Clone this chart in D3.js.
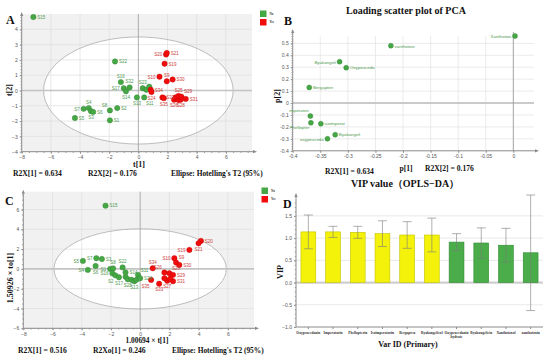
<!DOCTYPE html>
<html>
<head>
<meta charset="utf-8">
<script src="https://cdn.jsdelivr.net/npm/d3@7"></script>
<style>
body { margin: 0; background: #fff; }
svg text { font-family: "Liberation Sans", Arial, sans-serif; }
.serif { font-family: "Liberation Serif", "Times New Roman", serif !important; font-weight: bold; }
</style>
</head>
<body>
<script>
// ---------- data ----------
// A: PCA score plot
var pcaNames = ["S15","S22","S16","S32","S17","S14","S23","S18","S12","S13","S11","S7","S4","S3","S6","S8","S2","S1","S5",
                "S20","S21","S19","S10","S9","S30","S34","S24","S33","S35","S26","S36","S27","S28","S25","S29","S31"];
var pcaT1 = [-7.2,-1.6,-1.2,-0.6,-1.0,-0.85,0.3,0.55,0.75,-0.1,0.4,-3.75,-3.4,-3.25,-3.1,-1.95,-1.45,-1.95,-4.35,
             1.9,1.95,1.8,1.45,1.95,2.35,0.85,0.9,1.65,1.75,2.45,2.55,2.75,2.9,2.75,2.95,3.25];
var pcaT2 = [4.8,1.9,0.55,0.2,0.15,-0.05,0.15,0.05,0.25,-0.45,-0.45,-1.2,-1.15,-1.35,-1.4,-1.3,-1.15,-1.95,-1.8,
             2.35,2.45,1.75,0.9,0.6,0.72,0.05,-0.1,-0.45,-0.5,-0.6,-0.45,-0.62,-0.6,-0.35,-0.4,-0.55];
var pcaClass = ["No","No","No","No","No","No","No","No","No","No","No","No","No","No","No","No","No","No","No",
                "Yes","Yes","Yes","Yes","Yes","Yes","Yes","Yes","Yes","Yes","Yes","Yes","Yes","Yes","Yes","Yes","Yes"];

// B: PCA loadings
var loadNames = ["Xanthotoxi","xanthotoxi","Byakangeli","Oxypeuceda","Bergapten","imperatori","Phellopter","isoimperat","Byakangeli","oxypeuceda"];
var loadP1 = [0.003,-0.222,-0.315,-0.303,-0.370,-0.368,-0.367,-0.349,-0.323,-0.337];
var loadP2 = [0.561,0.48,0.346,0.296,0.131,-0.109,-0.165,-0.173,-0.265,-0.299];

// C: OPLS-DA score plot
var oplsNames = ["S15","S5","S7","S3","S4","S6","S1","S8","S22","S16","S2","S17","S14","S18","S28","S23","S13","S12","S11","S24",
                 "S20","S21","S19","S10","S9","S30","S34","S26","S25","S29","S35","S33","S27","S31","S32","S36"];
var oplsT1 = [-2.37,-3.92,-3.0,-2.62,-3.58,-3.05,-2.05,-1.85,-1.2,-1.9,-1.7,-1.45,-1.0,-1.0,-0.85,-0.6,-0.4,-0.25,-0.15,0.0,
              4.16,4.0,3.37,2.34,2.46,2.68,0.86,1.66,2.0,2.25,0.75,1.3,1.85,2.25,1.66,2.05];
var oplsTo1 = [6.39,0.81,1.08,1.0,-0.1,0.3,0.0,0.05,0.15,-0.45,-0.65,-0.85,-0.35,-0.8,-1.05,-1.1,-1.25,-1.1,-0.6,-0.95,
               2.83,2.59,1.92,1.08,0.64,0.4,0.07,-0.37,-0.44,-0.6,-1.11,-1.5,-1.2,-1.25,-0.94,-1.0];
var oplsClass = ["No","No","No","No","No","No","No","No","No","No","No","No","No","No","No","No","No","No","No","No",
                 "Yes","Yes","Yes","Yes","Yes","Yes","Yes","Yes","Yes","Yes","Yes","Yes","Yes","Yes","Yes","Yes"];

// D: VIP values
var vipNames = ["Oxypeucedanin","Imperatorin","Phellopterin","Isoimperatorin","Bergapten","Byakangelicol",
                "Oxypeucedanin hydrate","Byakangelicin","Xanthotoxol","xanthotoxin"];
var vipValues = [1.14,1.14,1.13,1.10,1.07,1.07,0.91,0.89,0.84,0.67];
var vipErr = [0.38,0.125,0.135,0.29,0.30,0.38,0.19,0.34,0.38,1.3];

// ---------- layout (label placement, not data) ----------
var labelSideA = {S15:"R",S22:"R",S16:"T",S32:"T",S17:"L",S14:"B",S23:"T",S13:"B",S11:"BR",S7:"L",S4:"T",S3:"B",S6:"R",
  S8:"TL",S2:"R",S1:"R",S5:"R",S20:"L",S21:"R",S19:"R",S10:"L",S9:"T",S30:"R",S34:"R",S24:"B",S33:"R",S35:"B",S26:"B",
  S28:"B",S25:"T",S29:"TR",S31:"R"};
var labelSideC = {S15:"R",S5:"L",S7:"L",S3:"R",S4:"L",S6:"B",S1:"L",S8:"T",S22:"T",S16:"L",S2:"BL",S17:"B",S14:"R",
  S28:"B",S13:"B",S11:"TR",S24:"R",S20:"R",S21:"B",S19:"L",S10:"L",S9:"TR",S30:"R",S34:"T",S26:"TL",S25:"TR",S29:"R",
  S35:"BL",S33:"B",S27:"B",S31:"R"};
var labelSideB = ["L","R","L","R","R","TL","BL","R","R","L"];

var green = "#45a845", greenDark = "#2f7d2f", red = "#f20d0d", redDark = "#c00000";
var greenText = "#4f9a4f", redText = "#cf3b3b";

var svg = d3.select("body").append("svg").attr("width", 550).attr("height", 359);

function serifText(x, y, s, size, anchor, rot) {
  var t = svg.append("text").attr("class", "serif")
    .attr("font-size", size).attr("text-anchor", anchor || "start").attr("fill", "#111").text(s);
  if (rot) t.attr("transform", "translate(" + x + "," + y + ") rotate(-90)");
  else t.attr("x", x).attr("y", y);
  return t;
}

function placeLabel(side, r) {
  var dx = 0, dy = 1.8, anchor = "start";
  if (side == "R") { dx = r + 1.2; }
  if (side == "L") { dx = -r - 1.2; anchor = "end"; }
  if (side == "T") { dy = -r - 1.5; anchor = "middle"; }
  if (side == "B") { dy = r + 5; anchor = "middle"; }
  if (side == "TR") { dx = r; dy = -r - 0.5; }
  if (side == "TL") { dx = -r; dy = -r - 0.5; anchor = "end"; }
  if (side == "BR") { dx = r - 1; dy = r + 5; }
  if (side == "BL") { dx = -r + 1; dy = r + 5; anchor = "end"; }
  return {dx: dx, dy: dy, anchor: anchor};
}

function arrowX(g, x, y) {
  g.append("path").attr("d", "M" + x + "," + (y - 1.6) + "L" + (x + 4) + "," + y + "L" + x + "," + (y + 1.6) + "Z").attr("fill", "#888");
}
function arrowY(g, x, y) {
  g.append("path").attr("d", "M" + (x - 1.6) + "," + y + "L" + x + "," + (y - 4) + "L" + (x + 1.6) + "," + y + "Z").attr("fill", "#888");
}

function styleAxis(ax) {
  ax.select(".domain").attr("stroke", "#8a8a8a");
  ax.selectAll(".tick line").attr("stroke", "#8a8a8a");
  ax.selectAll(".tick text").attr("fill", "#555").attr("font-size", 5);
}

// scatter with ellipse (A and C)
function scorePlot(o) {
  var g = svg.append("g");
  var x = o.x, y = o.y;
  var x0 = x.range()[0], x1 = x.range()[1], yb = y.range()[0], yt = y.range()[1];
  g.append("rect").attr("x", x0).attr("y", yt).attr("width", x1 - x0 - 3).attr("height", yb - yt).attr("fill", "#f1f1f1");
  g.append("ellipse").attr("cx", x(0)).attr("cy", y(0))
    .attr("rx", x(o.rx) - x(0)).attr("ry", y(0) - y(o.ry)).attr("fill", "#fff");
  g.selectAll(".gx").data(o.xTicks.filter(function(d){ return d != 0 && d != o.xTicks[0]; })).enter().append("line")
    .attr("x1", function(d){ return x(d); }).attr("x2", function(d){ return x(d); })
    .attr("y1", yt).attr("y2", yb).attr("stroke", "#dedede").attr("stroke-width", 0.7);
  g.selectAll(".gy").data(o.yGrid.filter(function(d){ return d != 0; })).enter().append("line")
    .attr("x1", x0).attr("x2", x1 - 3).attr("y1", function(d){ return y(d); }).attr("y2", function(d){ return y(d); })
    .attr("stroke", "#dedede").attr("stroke-width", 0.7);
  g.append("ellipse").attr("cx", x(0)).attr("cy", y(0))
    .attr("rx", x(o.rx) - x(0)).attr("ry", y(0) - y(o.ry)).attr("fill", "none").attr("stroke", "#b5b5b5").attr("stroke-width", 0.9);
  g.append("line").attr("x1", x0).attr("x2", x1 - 3).attr("y1", y(0)).attr("y2", y(0)).attr("stroke", "#c4c4c4").attr("stroke-width", 1.6);
  g.append("line").attr("x1", x(0)).attr("x2", x(0)).attr("y1", yt).attr("y2", yb).attr("stroke", "#9a9a9a").attr("stroke-width", 0.8);

  var ax = g.append("g").attr("transform", "translate(0," + yb + ")")
    .call(d3.axisBottom(x).tickValues(o.xTicks).tickSize(2).tickPadding(2).tickSizeOuter(0));
  ax.select(".domain").attr("d", "M" + x0 + ",0H" + (x1 - 2));
  styleAxis(ax);
  var axm = g.append("g").attr("transform", "translate(0," + yb + ")")
    .call(d3.axisBottom(x).tickValues(d3.range(o.xTicks[0], x.domain()[1], 0.5)).tickSize(1.2).tickFormat("").tickSizeOuter(0));
  axm.select(".domain").remove(); axm.selectAll("line").attr("stroke", "#999");
  arrowX(g, x1 - 2, yb);

  var ay = g.append("g").attr("transform", "translate(" + x0 + ",0)")
    .call(d3.axisLeft(y).tickValues(o.yTicks).tickSize(2).tickPadding(2).tickSizeOuter(0));
  ay.select(".domain").attr("d", "M0," + yb + "V" + (yt + 2));
  styleAxis(ay);
  var aym = g.append("g").attr("transform", "translate(" + x0 + ",0)")
    .call(d3.axisLeft(y).tickValues(d3.range(y.domain()[0], y.domain()[1], o.yMinor)).tickSize(1.2).tickFormat("").tickSizeOuter(0));
  aym.select(".domain").remove(); aym.selectAll("line").attr("stroke", "#999");
  arrowY(g, x0, yt + 2);

  var rows = o.names.map(function(n, i){ return {name: n, a: o.t1[i], b: o.t2[i], c: o.cls[i]}; });
  var r = 2.7;
  g.selectAll(".pt").data(rows).enter().append("circle")
    .attr("cx", function(d){ return x(d.a); }).attr("cy", function(d){ return y(d.b); }).attr("r", r)
    .attr("fill", function(d){ return d.c == "No" ? green : red; })
    .attr("stroke", function(d){ return d.c == "No" ? greenDark : redDark; }).attr("stroke-width", 0.4);
  g.selectAll(".lb").data(rows.filter(function(d){ return o.sides[d.name]; })).enter().append("text")
    .each(function(d){
      var p = placeLabel(o.sides[d.name], r);
      d3.select(this).attr("x", x(d.a) + p.dx).attr("y", y(d.b) + p.dy).attr("text-anchor", p.anchor);
    })
    .attr("font-size", 4.5).attr("fill", function(d){ return d.c == "No" ? greenText : redText; })
    .text(function(d){ return d.name; });

  // legend
  var lg = svg.append("g").attr("transform", "translate(" + o.legend[0] + "," + o.legend[1] + ")");
  [["No", green], ["Yes", red]].forEach(function(e, i) {
    lg.append("rect").attr("x", 0).attr("y", i * 8.5).attr("width", 6.5).attr("height", 6.5).attr("fill", e[1]);
    lg.append("text").attr("class", "serif").attr("x", 9.5).attr("y", i * 8.5 + 4).attr("font-size", 3.2).attr("fill", "#333").text(e[0]);
  });
}

// ---- Panel A ----
scorePlot({
  x: d3.scaleLinear([-8, 8], [21.7, 255]),
  y: d3.scaleLinear([-4, 5], [151.7, 14]),
  xTicks: [-8, -6, -4, -2, 0, 2, 4, 6], yTicks: [-4, -3, -2, -1, 0, 1, 2, 3, 4], yGrid: [-3, -2, -1, 1, 2, 3, 4],
  yMinor: 0.2, rx: 6.5, ry: 3.5,
  names: pcaNames, t1: pcaT1, t2: pcaT2, cls: pcaClass, sides: labelSideA, legend: [260, 10.5]
});
serifText(6, 24, "A", 12).attr("font-weight", "normal");
serifText(12, 90, "t[2]", 8, "middle", true);
serifText(139, 167, "t[1]", 8, "middle");
serifText(13, 176, "R2X[1] = 0.634", 7.6);
serifText(88, 176, "R2X[2] = 0.176", 7.6);
serifText(171, 176, "Ellipse: Hotelling's T2 (95%)", 7.4);

// ---- Panel C ----
scorePlot({
  x: d3.scaleLinear([-8, 8], [23.3, 257]),
  y: d3.scaleLinear([-6, 7.8], [328.3, 191.7]),
  xTicks: [-8, -6, -4, -2, 0, 2, 4, 6], yTicks: [-6, -4, -2, 0, 2, 4, 6], yGrid: [-6, -4, -2, 2, 4, 6],
  yMinor: 0.5, rx: 5.9, ry: 4.05,
  names: oplsNames, t1: oplsT1, t2: oplsTo1, cls: oplsClass, sides: labelSideC, legend: [261.5, 187.5]
});
serifText(5, 205, "C", 12).attr("font-weight", "normal");
serifText(13, 278, "1.50926 × to[1]", 8, "middle", true);
serifText(147, 342.5, "1.00694 × t[1]", 7.4, "middle");
serifText(18, 352.5, "R2X[1] = 0.516", 7.6);
serifText(93, 352.5, "R2Xo[1] = 0.246", 7.6);
serifText(172, 352.5, "Ellipse: Hotelling's T2 (95%)", 7.4);

// ---- Panel B ----
(function() {
  var g = svg.append("g");
  var x = d3.scaleLinear([-0.4, 0.042], [292.7, 536.5]);
  var y = d3.scaleLinear([-0.4, 0.6], [150.8, 31.4]);
  var xt = d3.range(-0.4, 0.001, 0.05).map(function(d){ return Math.round(d * 100) / 100; });
  var yt = d3.range(-0.4, 0.501, 0.1).map(function(d){ return Math.round(d * 10) / 10; });
  g.selectAll(".gx").data(xt.slice(1)).enter().append("line")
    .attr("x1", function(d){ return x(d); }).attr("x2", function(d){ return x(d); })
    .attr("y1", 36).attr("y2", 150.8).attr("stroke", "#e2e2e2").attr("stroke-width", 0.7);
  g.selectAll(".gy").data(yt.slice(1)).enter().append("line")
    .attr("x1", 292.7).attr("x2", 534).attr("y1", function(d){ return y(d); }).attr("y2", function(d){ return y(d); })
    .attr("stroke", "#e2e2e2").attr("stroke-width", 0.7);
  g.append("line").attr("x1", 292.7).attr("x2", 534).attr("y1", y(0)).attr("y2", y(0)).attr("stroke", "#cacaca").attr("stroke-width", 2);
  g.append("line").attr("x1", x(0)).attr("x2", x(0)).attr("y1", 32).attr("y2", 150.8).attr("stroke", "#a0a0a0").attr("stroke-width", 0.9);

  var ax = g.append("g").attr("transform", "translate(0,150.8)")
    .call(d3.axisBottom(x).tickValues(xt).tickSize(2).tickPadding(2).tickSizeOuter(0).tickFormat(function(d){ return d == 0 ? "0" : d; }));
  ax.select(".domain").attr("d", "M292.7,0H535");
  styleAxis(ax);
  arrowX(g, 535, 150.8);
  var ay = g.append("g").attr("transform", "translate(292.7,0)")
    .call(d3.axisLeft(y).tickValues(yt).tickSize(2).tickPadding(2).tickSizeOuter(0).tickFormat(function(d){ return d == 0 ? "0" : d; }));
  ay.select(".domain").attr("d", "M0,150.8V33");
  styleAxis(ay);
  var aym = g.append("g").attr("transform", "translate(292.7,0)")
    .call(d3.axisLeft(y).tickValues(d3.range(-0.4, 0.6, 0.02)).tickSize(1.2).tickFormat("").tickSizeOuter(0));
  aym.select(".domain").remove(); aym.selectAll("line").attr("stroke", "#999");
  arrowY(g, 292.7, 33);

  var rows = loadNames.map(function(n, i){ return {name: n, a: loadP1[i], b: loadP2[i], side: labelSideB[i]}; });
  var r = 2.5;
  g.selectAll(".pt").data(rows).enter().append("circle")
    .attr("cx", function(d){ return x(d.a); }).attr("cy", function(d){ return y(d.b); }).attr("r", r)
    .attr("fill", green).attr("stroke", greenDark).attr("stroke-width", 0.4);
  g.selectAll(".lb").data(rows).enter().append("text")
    .each(function(d){
      var p = placeLabel(d.side, r);
      if (d.side == "TL") { p.dx = -r + 1; p.dy = -r - 2; }
      if (d.side == "BL") { p.dx = -r + 1; p.dy = r + 4; }
      d3.select(this).attr("x", x(d.a) + p.dx).attr("y", y(d.b) + p.dy).attr("text-anchor", p.anchor);
    })
    .attr("font-size", 4.4).attr("fill", greenText).text(function(d){ return d.name; });
})();
serifText(406, 14, "Loading scatter plot of PCA", 10, "middle");
serifText(284, 25, "B", 12).attr("font-weight", "normal");
serifText(280, 96, "p[2]", 8, "middle", true);
serifText(325, 173.5, "R2X[1] = 0.634", 7.6);
serifText(406, 170.5, "p[1]", 7.6, "middle");
serifText(425, 170.5, "R2X[2] = 0.176", 7.6);

// ---- Panel D ----
(function() {
  var g = svg.append("g");
  var x = d3.scaleBand(vipNames, [296, 543]).paddingInner(0.4).paddingOuter(0.2);
  var y = d3.scaleLinear([-1, 1.97], [327, 195]);
  var grid = [-0.5, 0.5, 1, 1.5];
  g.selectAll(".gy").data(grid).enter().append("line")
    .attr("x1", 296).attr("x2", 543).attr("y1", function(d){ return y(d); }).attr("y2", function(d){ return y(d); })
    .attr("stroke", "#e0e0e0").attr("stroke-width", 0.7);
  g.append("line").attr("x1", 296).attr("x2", 543).attr("y1", y(0)).attr("y2", y(0)).attr("stroke", "#cfcfcf").attr("stroke-width", 2.2);

  var rows = vipNames.map(function(n, i){ return {name: n, v: vipValues[i], e: vipErr[i]}; });
  g.selectAll(".bar").data(rows).enter().append("rect")
    .attr("x", function(d){ return x(d.name); }).attr("width", x.bandwidth())
    .attr("y", function(d){ return y(d.v); }).attr("height", function(d){ return y(0) - y(d.v); })
    .attr("fill", function(d){ return d.v > 1 ? "#f4f20a" : "#4aad4a"; })
    .attr("stroke", function(d){ return d.v > 1 ? "#c4c200" : "#2f8a2f"; }).attr("stroke-width", 0.6);
  var cw = 4.5;
  var eb = g.selectAll(".err").data(rows).enter().append("g").attr("stroke", "#7a7a7a").attr("stroke-width", 0.6);
  eb.append("line").attr("x1", function(d){ return x(d.name) + x.bandwidth() / 2; }).attr("x2", function(d){ return x(d.name) + x.bandwidth() / 2; })
    .attr("y1", function(d){ return y(d.v + d.e); }).attr("y2", function(d){ return y(d.v - d.e); });
  eb.append("line").attr("x1", function(d){ return x(d.name) + x.bandwidth() / 2 - cw; }).attr("x2", function(d){ return x(d.name) + x.bandwidth() / 2 + cw; })
    .attr("y1", function(d){ return y(d.v + d.e); }).attr("y2", function(d){ return y(d.v + d.e); });
  eb.append("line").attr("x1", function(d){ return x(d.name) + x.bandwidth() / 2 - cw; }).attr("x2", function(d){ return x(d.name) + x.bandwidth() / 2 + cw; })
    .attr("y1", function(d){ return y(d.v - d.e); }).attr("y2", function(d){ return y(d.v - d.e); });

  var ay = g.append("g").attr("transform", "translate(296,0)")
    .call(d3.axisLeft(y).tickValues([-1, -0.5, 0, 0.5, 1, 1.5]).tickSize(2).tickPadding(2).tickSizeOuter(0));
  ay.select(".domain").attr("d", "M0,327V197");
  styleAxis(ay);
  var aym = g.append("g").attr("transform", "translate(296,0)")
    .call(d3.axisLeft(y).tickValues(d3.range(-1, 1.9, 0.1)).tickSize(1.2).tickFormat("").tickSizeOuter(0));
  aym.select(".domain").remove(); aym.selectAll("line").attr("stroke", "#999");
  arrowY(g, 296, 197);

  var ax = g.append("g").attr("transform", "translate(0,327)")
    .call(d3.axisBottom(x).tickSize(2).tickPadding(2).tickSizeOuter(0));
  ax.select(".domain").attr("d", "M296,0H543");
  styleAxis(ax);
  ax.selectAll(".tick text").attr("class", "serif").attr("font-size", 3.6).attr("fill", "#333")
    .each(function(d) {
      var words = d.split(" ");
      if (words.length > 1) {
        var t = d3.select(this).text(null);
        words.forEach(function(w, i){ t.append("tspan").attr("x", 0).attr("dy", i ? "1.1em" : "0.71em").text(w); });
      }
    });
})();
serifText(405, 187, "VIP value（OPLS−DA）", 10, "middle");
serifText(283, 208, "D", 12).attr("font-weight", "normal");
serifText(283, 272, "VIP", 8, "middle", true);
serifText(408, 347, "Var ID (Primary)", 8, "middle");
</script>
</body>
</html>
